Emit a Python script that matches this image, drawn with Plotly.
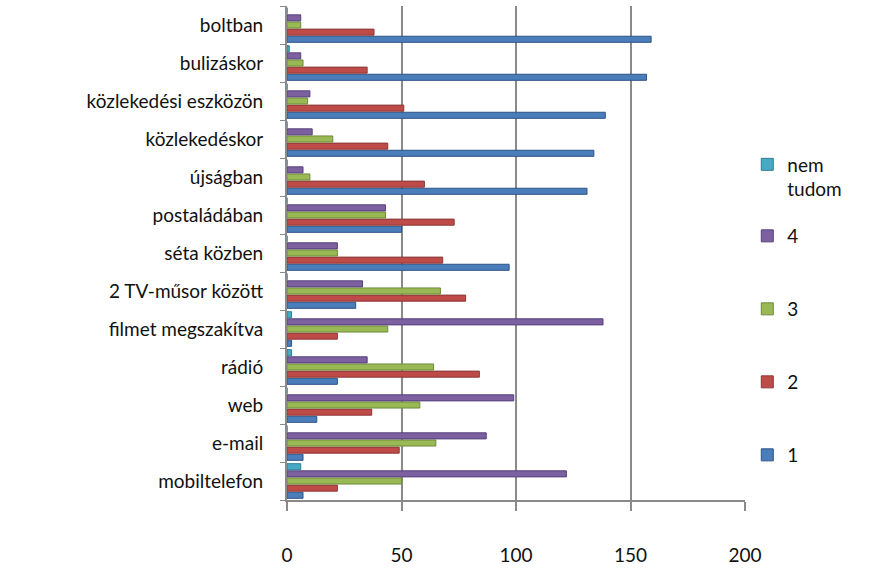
import plotly.graph_objects as go

categories = ["boltban", "bulizáskor", "közlekedési eszközön", "közlekedéskor",
              "újságban", "postaládában", "séta közben", "2 TV-műsor között",
              "filmet megszakítva", "rádió", "web", "e-mail", "mobiltelefon"]
s1 = [159, 157, 139, 134, 131, 50, 97, 30, 2, 22, 13, 7, 7]
s2 = [38, 35, 51, 44, 60, 73, 68, 78, 22, 84, 37, 49, 22]
s3 = [6, 7, 9, 20, 10, 43, 22, 67, 44, 64, 58, 65, 50]
s4 = [6, 6, 10, 11, 7, 43, 22, 33, 138, 35, 99, 87, 122]
s_nem = [0, 1, 0, 0, 0, 0, 0, 0, 2, 2, 0, 0, 6]
series_names = ["1", "2", "3", "4", "nem<br>tudom"]
x_ticks = [0, 50, 100, 150, 200]

fills = ["#4A7EBB", "#BE4B48", "#98B954", "#7D60A0", "#46AAC5"]
lines = ["#2F5485", "#8C3836", "#6E8A3A", "#56407A", "#2F7E93"]
legend_py = [455, 382, 309, 236, 177]  # pixel centers of legend entries

H_TOP, H_BOT, W_LEFT, W_RIGHT = 6, 500, 287, 745

fig = go.Figure()
all_series = [s1, s2, s3, s4, s_nem]
legend_ids = ["legend", "legend2", "legend3", "legend4", "legend5"]
for i, (vals, name) in enumerate(zip(all_series, series_names)):
    fig.add_trace(go.Bar(
        y=categories, x=vals, name=name, orientation="h",
        marker=dict(color=fills[i], line=dict(color=lines[i], width=1)),
        legend=legend_ids[i], showlegend=True,
    ))

legend_font = dict(family="Lato, Open Sans, sans-serif", size=19, color="#111111")
layout_legends = {}
for i, lid in enumerate(legend_ids):
    yp = (H_BOT - legend_py[i]) / (H_BOT - H_TOP)
    layout_legends[lid] = dict(
        x=1.005, xanchor="left", y=yp, yanchor="middle",
        font=legend_font, bgcolor="rgba(0,0,0,0)", valign="top",
        itemwidth=30, visible=True,
    )

fig.update_layout(
    width=878, height=572, showlegend=True,
    margin=dict(l=W_LEFT, r=878 - W_RIGHT, t=H_TOP, b=572 - H_BOT),
    paper_bgcolor="white", plot_bgcolor="white",
    barmode="group", bargap=0.06, bargroupgap=0.15,
    font=dict(family="Lato, Open Sans, sans-serif", size=19, color="#111111"),
    **layout_legends,
)
fig.update_xaxes(
    range=[0, 200], tickvals=x_ticks, ticktext=[str(v) for v in x_ticks],
    showgrid=True, gridcolor="#8a8a8a", gridwidth=2,
    showline=True, linecolor="#8a8a8a", linewidth=2,
    ticks="outside", ticklen=9, tickcolor="#8a8a8a", tickwidth=2,
    ticklabelstandoff=28, zeroline=False,
)
fig.update_yaxes(
    categoryorder="array", categoryarray=categories[::-1],
    showline=True, linecolor="#8a8a8a", linewidth=2,
    ticks="outside", ticklen=5, tickcolor="#8a8a8a", tickwidth=1,
    tickson="boundaries", showgrid=False, ticklabelstandoff=18,
)

fig.write_html("out.html", config={"displayModeBar": False},
               post_script="document.body.style.margin='0';")
